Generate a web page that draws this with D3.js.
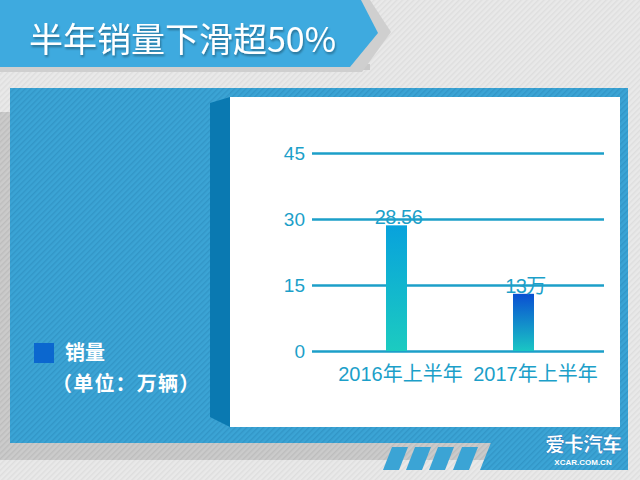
<!DOCTYPE html>
<html>
<head>
<meta charset="utf-8">
<script src="https://cdn.jsdelivr.net/npm/d3@7"></script>
<style>
  html, body { margin: 0; padding: 0; background: #e8e8e8; }
  #plot { width: 640px; height: 480px; }
  text { font-family: "Liberation Sans", "Noto Sans CJK SC", sans-serif; }
</style>
</head>
<body>
<div id="plot"></div>
<script>
// half-year sales, unit: 万辆
const categories = ['2016年上半年', '2017年上半年'];
const sales = [28.56, 13];
const valueLabels = ['28.56', '13万'];
const yTicks = [0, 15, 30, 45];
const titleText = '半年销量下滑超50%';
const legendName = '销量';
const legendUnit = '（单位：万辆）';

const W = 640, H = 480;
const svg = d3.select('#plot').append('svg').attr('width', W).attr('height', H);
const defs = svg.append('defs');

// diagonal hatch textures
function hatch(id, bg, line) {
  const p = defs.append('pattern').attr('id', id).attr('patternUnits', 'userSpaceOnUse')
    .attr('width', 4).attr('height', 4).attr('patternTransform', 'rotate(45)');
  p.append('rect').attr('width', 4).attr('height', 4).attr('fill', bg);
  p.append('rect').attr('width', 1.4).attr('height', 4).attr('fill', line);
}
hatch('hLight', '#e9e9e9', '#dedede');
hatch('hGray', '#cbcbcb', '#bdbdbd');
hatch('hBlue', '#3ba4d5', '#3296c7');

const g1 = defs.append('linearGradient').attr('id', 'bar0').attr('x1', 0).attr('y1', 0).attr('x2', 0).attr('y2', 1);
g1.append('stop').attr('offset', '0%').attr('stop-color', '#08a2dc');
g1.append('stop').attr('offset', '100%').attr('stop-color', '#1ccbc0');
const g2 = defs.append('linearGradient').attr('id', 'bar1').attr('x1', 0).attr('y1', 0).attr('x2', 0).attr('y2', 1);
g2.append('stop').attr('offset', '0%').attr('stop-color', '#0a4fd2');
g2.append('stop').attr('offset', '100%').attr('stop-color', '#1ac6c4');

const shadow = defs.append('filter').attr('id', 'ts').attr('x', '-10%').attr('y', '-20%').attr('width', '130%').attr('height', '160%');
shadow.append('feDropShadow').attr('dx', 1).attr('dy', 2).attr('stdDeviation', 1).attr('flood-color', '#000').attr('flood-opacity', 0.35);

// background
svg.append('rect').attr('width', W).attr('height', H).attr('fill', 'url(#hLight)');
svg.append('rect').attr('x', 0).attr('y', 112).attr('width', 12).attr('height', 348).attr('fill', 'url(#hGray)');
svg.append('rect').attr('x', 0).attr('y', 440).attr('width', 492).attr('height', 20).attr('fill', 'url(#hGray)');

// title banner
svg.append('rect').attr('x', 0).attr('y', 64).attr('width', 370).attr('height', 6).attr('fill', '#c9c9c9');
svg.append('path').attr('d', 'M0,0 L370,0 L391,32 L362,72 L0,72 Z').attr('fill', '#cfcfcf');
svg.append('path').attr('d', 'M0,0 L361,0 L378,33 L350,67 L0,67 Z').attr('fill', '#3eaadf');
svg.append('text').attr('x', 29).attr('y', 52).attr('fill', '#fff')
  .style('font-family', '"Noto Sans CJK SC", sans-serif').style('font-size', '34px')
  .attr('filter', 'url(#ts)').text(titleText);

// main blue panel
svg.append('rect').attr('x', 10).attr('y', 88).attr('width', 618).attr('height', 355).attr('fill', 'url(#hBlue)');
svg.append('path').attr('d', 'M492,440 L628,440 L628,470 L480,470 Z').attr('fill', 'url(#hBlue)');
[392, 415, 438, 462].forEach((a) => {
  svg.append('path').attr('d', `M${a},447 L${a + 16},447 L${a + 7},470 L${a - 9},470 Z`).attr('fill', '#3ba4d5');
});

// 3d side + white plot card
svg.append('path').attr('d', 'M210,103 L230,97 L230,427 L210,417 Z').attr('fill', '#0a79b1');
svg.append('rect').attr('x', 230).attr('y', 97).attr('width', 390).attr('height', 330).attr('fill', '#fff');

// scales
const y = d3.scaleLinear().domain([0, 45]).range([351, 153]);
const x = d3.scalePoint().domain(categories).range([333, 587]).padding(0.5);
const xLab = d3.scalePoint().domain(categories).range([333, 603]).padding(0.5);
const barW = 21;
const axisColor = '#1c9fc9';

const yAxis = svg.append('g').attr('transform', 'translate(312,0)')
  .call(d3.axisLeft(y).tickValues(yTicks).tickSize(-292).tickPadding(7));
yAxis.select('.domain').remove();
yAxis.selectAll('line').attr('stroke', axisColor).attr('stroke-width', 2.5);
yAxis.selectAll('text').attr('fill', axisColor).style('font-size', '19px')
  .style('font-family', '"Liberation Sans", Arial, sans-serif').attr('dy', '0.36em');

// bars
svg.append('g').selectAll('rect').data(sales).enter().append('rect')
  .attr('x', (d, i) => x(categories[i]) - barW / 2)
  .attr('y', (d) => y(d))
  .attr('width', barW)
  .attr('height', (d) => y(0) - y(d))
  .attr('fill', (d, i) => `url(#bar${i})`);

// value labels
svg.append('g').selectAll('text').data(sales).enter().append('text')
  .attr('x', (d, i) => x(categories[i]) + 2)
  .attr('y', (d) => y(d) - 1)
  .attr('text-anchor', 'middle')
  .attr('fill', axisColor)
  .style('font-size', '20px')
  .style('letter-spacing', '-0.5px')
  .text((d, i) => valueLabels[i]);

// category labels
svg.append('g').selectAll('text').data(categories).enter().append('text')
  .attr('x', (d) => xLab(d))
  .attr('y', 381)
  .attr('text-anchor', 'middle')
  .attr('fill', axisColor)
  .style('font-size', '20px')
  .text((d) => d);

// legend
svg.append('rect').attr('x', 34).attr('y', 343).attr('width', 20).attr('height', 20).attr('fill', '#0b67cf');
svg.append('text').attr('x', 65).attr('y', 360).attr('fill', '#fff').style('font-size', '20px').style('font-weight', 'bold').text(legendName);
svg.append('text').attr('x', 52).attr('y', 391).attr('fill', '#fff').style('font-size', '20px').style('font-weight', 'bold')
  .style('letter-spacing', '1.2px').text(legendUnit);

// watermark
svg.append('text').attr('x', 583).attr('y', 452).attr('text-anchor', 'middle').attr('fill', '#fff')
  .attr('stroke', '#1a7fc0').attr('stroke-width', 0.6)
  .style('font-family', '"Noto Sans CJK SC", sans-serif').style('font-size', '20px').style('font-weight', 900)
  .style('letter-spacing', '-1px').text('爱卡汽车');
svg.append('text').attr('x', 583).attr('y', 465).attr('text-anchor', 'middle').attr('fill', '#fff')
  .style('font-size', '8px').style('font-weight', 'bold').text('XCAR.COM.CN');
</script>
</body>
</html>
